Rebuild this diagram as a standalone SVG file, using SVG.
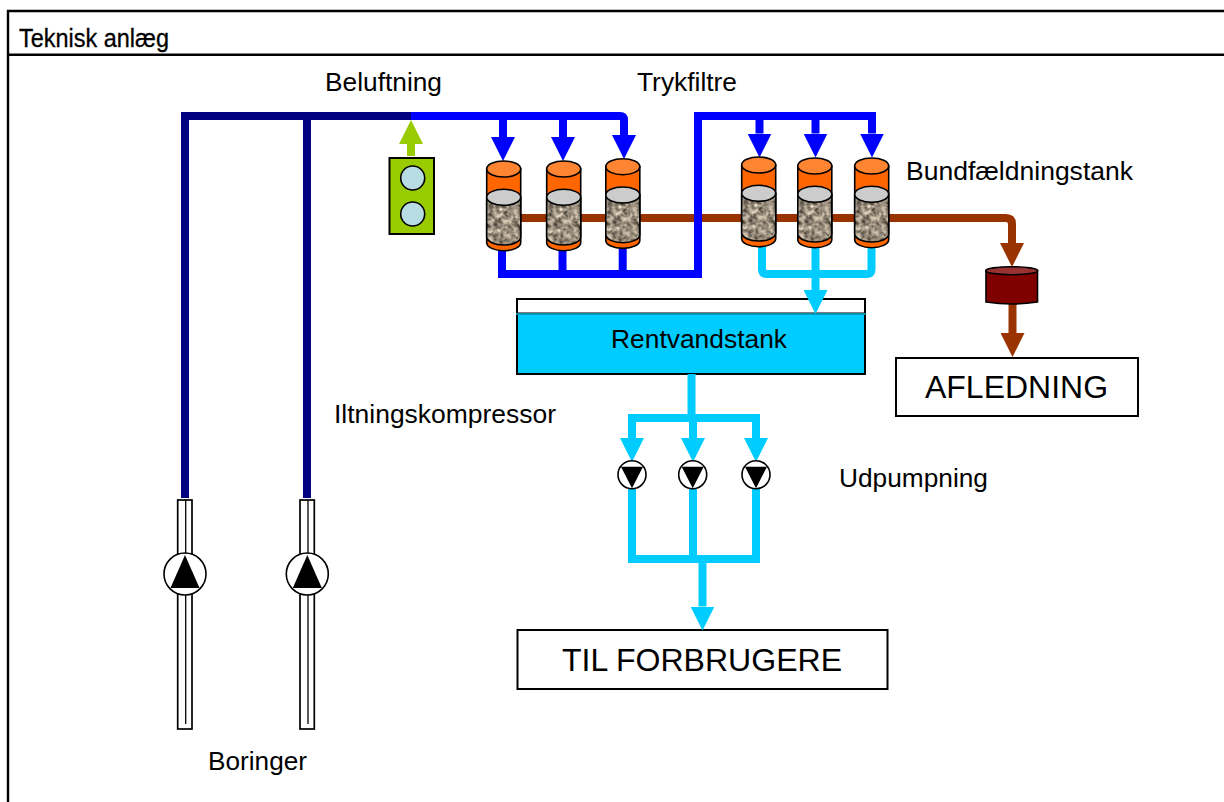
<svg xmlns="http://www.w3.org/2000/svg" xmlns:xlink="http://www.w3.org/1999/xlink" width="1224" height="802" viewBox="0 0 1224 802">
<style>
text{font-family:"Liberation Sans",Arial,sans-serif;font-size:26.5px;fill:#000}
.big{font-size:32px}
.title{font-size:25px;stroke:#000;stroke-width:.3px}
.frame{stroke:#000;stroke-width:2.4;fill:none}
.box{fill:#fff;stroke:#000;stroke-width:2}
.p{fill:none;stroke-width:8;stroke-linejoin:miter}
.navy{stroke:#000080}.blue{stroke:#0000ff}.cyan{stroke:#00ccff}.brown{stroke:#993300}.green{stroke:#99cc00}
.c{stroke:#000;stroke-width:1.6}
</style>
<defs>
<marker id="hb" markerUnits="userSpaceOnUse" markerWidth="24" markerHeight="24" refX="0" refY="12" orient="auto"><path d="M0 0L24 12L0 24Z" fill="#0000ff"/></marker>
<marker id="hc" markerUnits="userSpaceOnUse" markerWidth="24" markerHeight="24" refX="0" refY="12" orient="auto"><path d="M0 0L24 12L0 24Z" fill="#00ccff"/></marker>
<marker id="hr" markerUnits="userSpaceOnUse" markerWidth="24" markerHeight="24" refX="0" refY="12" orient="auto"><path d="M0 0L24 12L0 24Z" fill="#993300"/></marker>
<marker id="hg" markerUnits="userSpaceOnUse" markerWidth="24" markerHeight="24" refX="0" refY="12" orient="auto"><path d="M0 0L24 12L0 24Z" fill="#99cc00"/></marker>
<filter id="gravel" x="0" y="0" width="1" height="1" color-interpolation-filters="sRGB">
<feTurbulence type="fractalNoise" baseFrequency="0.2" numOctaves="2" seed="4"/>
<feColorMatrix type="matrix" values="0.9 0.7 0 0 -0.2  0.85 0.68 0 0 -0.21  0.8 0.62 0 0 -0.22  0 0 0 0 1"/>
<feComposite in2="SourceAlpha" operator="in"/>
</filter>
<g id="cyl">
<path class="c" fill="#ff6600" d="M-17 0V73.700A17 8 0 0 0 17 73.700V0Z"/>
<ellipse class="c" cx="0" cy="0" rx="17" ry="8" fill="#ff8533"/>
<path d="M-17 28.300V68A17 8 0 0 0 17 68V28.300Z" filter="url(#gravel)"/>
<path class="c" fill="none" d="M-17 28.300V68A17 8 0 0 0 17 68V28.300"/>
<ellipse class="c" cx="0" cy="28.300" rx="17" ry="8" fill="#cccccc"/>
</g>
<g id="spump">
<circle class="c" r="14" fill="#fff"/>
<path d="M-11-8H11L0 13.500Z" fill="#000"/>
</g>
<g id="bpump">
<circle class="c" r="21" fill="#fff"/>
<path d="M0-19L14.500 14H-14.500Z" fill="#000"/>
</g>
<g id="wellpipe">
<rect x="-7.300" y="0" width="14.300" height="229" fill="#fff" stroke="#000" stroke-width="1.700"/>
<path d="M0.700 0V224" stroke="#000" stroke-width="1.300" fill="none"/>
</g>
</defs>
<rect width="1224" height="802" fill="#fff"/>
<g id="frame">
<path class="frame" d="M1224 11H8V802M8 54.700H1224"/>
<text class="title" x="19" y="47" textLength="150" lengthAdjust="spacingAndGlyphs">Teknisk anlæg</text>
</g>
<g id="rentvandstank">
<rect class="box" x="517" y="299" width="348" height="75"/>
<rect x="517" y="313.500" width="348" height="60.500" fill="#00ccff" stroke="#000" stroke-width="2"/>
<path d="M516 314H866" stroke="#00b4dc" stroke-width="1.700"/>
<text x="611" y="348" textLength="176" lengthAdjust="spacingAndGlyphs">Rentvandstank</text>
</g>
<g id="afledning">
<rect class="box" x="896" y="358" width="242" height="58"/>
<text class="big" x="925" y="398" textLength="183" lengthAdjust="spacingAndGlyphs">AFLEDNING</text>
</g>
<g id="forbrugere">
<rect class="box" x="517.500" y="630" width="370" height="59"/>
<text class="big" x="562" y="671" textLength="280" lengthAdjust="spacingAndGlyphs">TIL FORBRUGERE</text>
</g>
<g id="connectors">
<path class="p brown" d="M520 218H1006Q1012 218 1012 224V243" marker-end="url(#hr)"/>
<path class="p brown" d="M1012.500 304V333" marker-end="url(#hr)"/>
<path class="p navy" d="M185 498V116H411M307 498V116"/>
<path class="p blue" d="M411 116H620Q624 116 624 120V135" marker-end="url(#hb)"/>
<path class="p blue" d="M503 116V137" marker-end="url(#hb)"/>
<path class="p blue" d="M563 116V137" marker-end="url(#hb)"/>
<path class="p blue" d="M502 248V274H698V116H872V133.500" marker-end="url(#hb)"/>
<path class="p blue" d="M562.500 248V274M622.700 246V274"/>
<path class="p blue" d="M759.500 116V133.500" marker-end="url(#hb)"/>
<path class="p blue" d="M815.500 116V133.500" marker-end="url(#hb)"/>
<path class="p green" d="M411 156V144" marker-end="url(#hg)"/>
<path class="p cyan" d="M762 245V269Q762 274 767 274H866.500Q871.500 274 871.500 269V245"/>
<path class="p cyan" d="M815.500 245V290" marker-end="url(#hc)"/>
<path class="p cyan" d="M691.500 374V418"/>
<path class="p cyan" d="M632 438V418H756V438" marker-end="url(#hc)"/>
<path class="p cyan" d="M632 418V438" marker-end="url(#hc)"/>
<path class="p cyan" d="M693 418V438" marker-end="url(#hc)"/>
<path class="p cyan" d="M632 486V559H756V486M693 486V559"/>
<path class="p cyan" d="M702.500 555V606.500" marker-end="url(#hc)"/>
</g>
<g id="kompressor">
<rect x="389.500" y="158" width="44.500" height="76" fill="#99cc00" stroke="#000" stroke-width="2"/>
<circle class="c" cx="412.700" cy="178" r="12" fill="#b7dde3"/>
<circle class="c" cx="412.700" cy="214" r="12" fill="#b7dde3"/>
</g>
<g id="filter1"><use xlink:href="#cyl" href="#cyl" x="503.700" y="169"/></g>
<g id="filter2"><use xlink:href="#cyl" href="#cyl" x="563.700" y="169"/></g>
<g id="filter3"><use xlink:href="#cyl" href="#cyl" x="622.800" y="166.700"/></g>
<g id="filter4"><use xlink:href="#cyl" href="#cyl" x="758.700" y="165"/></g>
<g id="filter5"><use xlink:href="#cyl" href="#cyl" x="814.800" y="166"/></g>
<g id="filter6"><use xlink:href="#cyl" href="#cyl" x="871.700" y="166"/></g>
<g id="bundtank">
<path class="c" fill="#800000" d="M986 270.700V302Q1012 306 1037.500 302V270.700Z"/>
<ellipse class="c" cx="1011.700" cy="270.700" rx="26" ry="4" fill="#993333"/>
</g>
<g id="pump-u1"><use xlink:href="#spump" href="#spump" x="632" y="474.700"/></g>
<g id="pump-u2"><use xlink:href="#spump" href="#spump" x="692.700" y="474.700"/></g>
<g id="pump-u3"><use xlink:href="#spump" href="#spump" x="756" y="474.700"/></g>
<g id="boring1"><use xlink:href="#wellpipe" href="#wellpipe" x="185" y="500"/><use xlink:href="#bpump" href="#bpump" x="185" y="574"/></g>
<g id="boring2"><use xlink:href="#wellpipe" href="#wellpipe" x="307.300" y="500"/><use xlink:href="#bpump" href="#bpump" x="307.300" y="574"/></g>
<g id="labels">
<text x="325" y="90.500" textLength="117" lengthAdjust="spacingAndGlyphs">Beluftning</text>
<text x="637" y="90.500" textLength="100" lengthAdjust="spacingAndGlyphs">Trykfiltre</text>
<text x="906" y="180" textLength="227" lengthAdjust="spacingAndGlyphs">Bundfældningstank</text>
<text x="334" y="423" textLength="222" lengthAdjust="spacingAndGlyphs">Iltningskompressor</text>
<text x="839" y="487" textLength="149" lengthAdjust="spacingAndGlyphs">Udpumpning</text>
<text x="208" y="770" textLength="99" lengthAdjust="spacingAndGlyphs">Boringer</text>
</g>
</svg>
